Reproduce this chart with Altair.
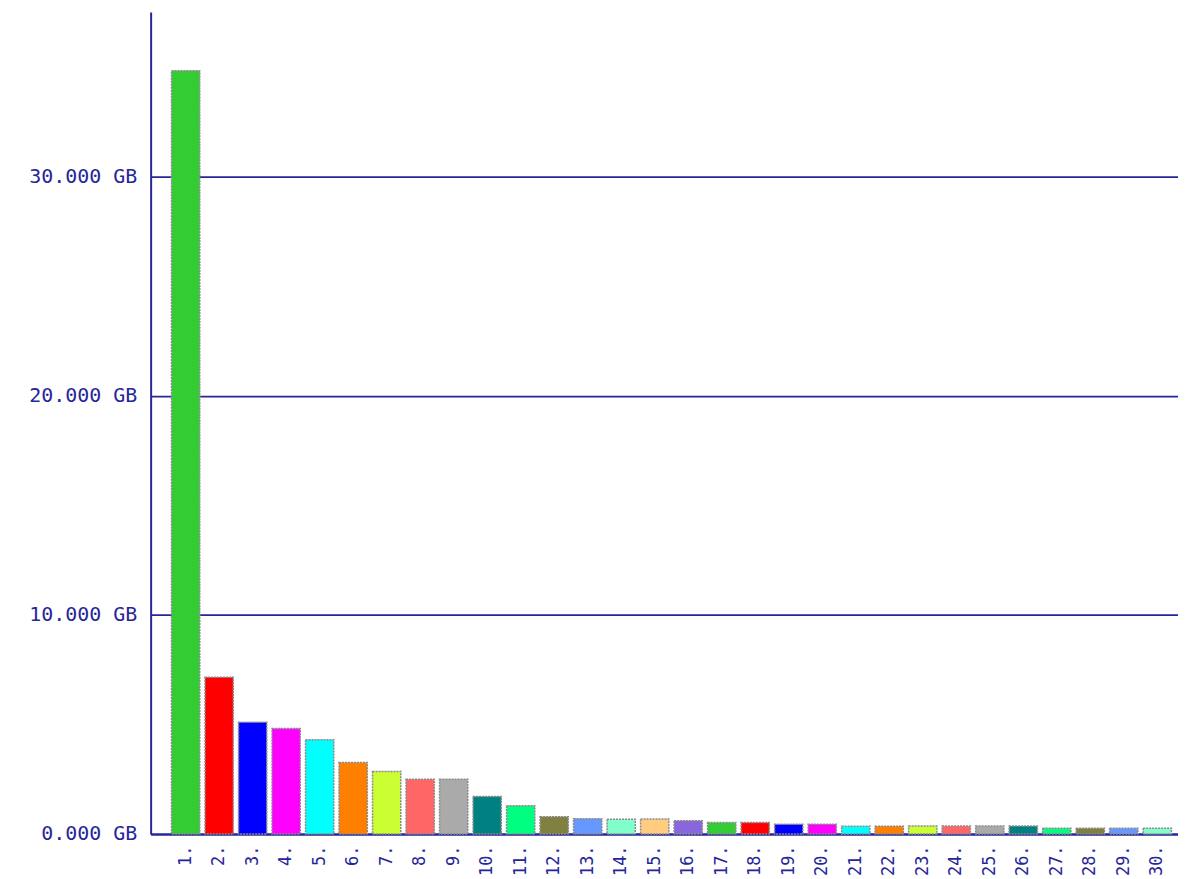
import altair as alt
import pandas as pd

ranks = [f"{i}." for i in range(1, 31)]
values_gb = [34820, 7150, 5100, 4810, 4300, 3260, 2850, 2500, 2500, 1715,
             1290, 790, 700, 670, 680, 610, 520, 520, 440, 450,
             350, 355, 360, 360, 360, 360, 260, 260, 260, 260]
palette = ["#33cc33", "#ff0000", "#0000ff", "#ff00ff", "#00ffff", "#ff8000",
           "#ccff33", "#ff6666", "#aaaaaa", "#008080", "#00ff80", "#808040",
           "#6699ff", "#80ffcc", "#ffcc80", "#8866dd"]
bar_colors = [palette[i % len(palette)] for i in range(len(ranks))]

df = pd.DataFrame({"rank": ranks, "value": values_gb, "color": bar_colors})

NAVY = "#26269a"
FONT = "DejaVu Sans Mono"

chart = alt.Chart(df).mark_bar(
    stroke="#8a8a8a", strokeWidth=1.5, strokeDash=[2, 1]
).encode(
    x=alt.X("rank:N", sort=None,
            scale=alt.Scale(paddingInner=0.157, paddingOuter=0.41, align=0.76),
            axis=alt.Axis(title=None, labelAngle=-90, ticks=False,
                          labelPadding=11, labelColor=NAVY, labelFont=FONT,
                          labelFontSize=17, domainColor=NAVY, domainWidth=2,
                          grid=False)),
    y=alt.Y("value:Q",
            scale=alt.Scale(domain=[0, 37500], nice=False),
            axis=alt.Axis(title=None, values=[0, 10000, 20000, 30000],
                          labelExpr="format(datum.value/1000, '.3f') + ' GB'",
                          ticks=False, labelPadding=14, labelColor=NAVY,
                          labelFont=FONT, labelFontSize=20, domainColor=NAVY,
                          domainWidth=2, grid=True, gridColor=NAVY,
                          gridWidth=1.8, gridOpacity=1)),
    color=alt.Color("color:N", scale=None, legend=None),
).properties(
    width=1030, height=824,
    autosize=alt.AutoSizeParams(type="none"),
    padding={"left": 143, "top": 3, "right": 0, "bottom": 44},
).configure_view(stroke=None)

chart.save("out.html", embed_options={"renderer": "svg", "actions": False})
